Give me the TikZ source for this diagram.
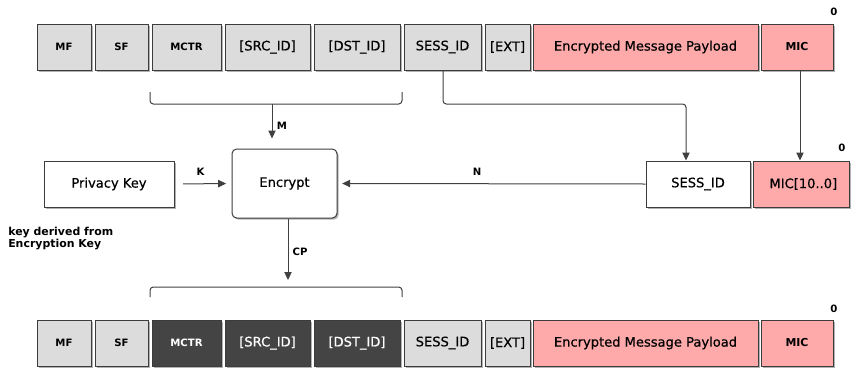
\documentclass[tikz,border=0pt]{standalone}
\usepackage{fontspec}
\setmainfont{DejaVu Sans}
\newfontfamily\medfont{DejaVu Sans}[FakeBold=0.5]
\usetikzlibrary{arrows.meta,shadows}
\definecolor{cellgray}{HTML}{DCDCDC}
\definecolor{cellpink}{HTML}{FFAAAA}
\definecolor{celldark}{HTML}{444444}
\definecolor{edgegray}{HTML}{3C3C3C}
\definecolor{linegray}{HTML}{404040}
\newcommand\mkcell[7]{\node[#2, minimum width={(#4-#3)*0.75pt}, minimum height={(#6-#5)*0.75pt}] (#1) at ({(#3+#4)/2},{(#5+#6)/2}) {#7};}
\tikzset{
  basebox/.style={draw=edgegray, line width=0.75pt, inner sep=0pt,
    drop shadow={shadow xshift=1.2pt, shadow yshift=-1.2pt, fill=black, opacity=0.3}},
  gbox/.style={basebox, fill=cellgray, text=black},
  pbox/.style={basebox, fill=cellpink, text=black},
  dbox/.style={basebox, fill=celldark, text=white},
  wbox/.style={basebox, fill=white, text=black},
  rbox/.style={wbox, rounded corners=3.5pt},
  smallbf/.style={font=\fontsize{7.6}{9}\selectfont\bfseries},
  midbf/.style={font=\fontsize{8.2}{10}\selectfont\bfseries},
  reg/.style={font=\fontsize{9.8}{12}\selectfont\medfont},
  lbl/.style={font=\fontsize{7.6}{9}\selectfont\bfseries, inner sep=0pt},
  conn/.style={draw=linegray, line width=0.75pt},
  arr/.style={conn, -{Triangle[length=6pt, width=5.5pt]}},
  brace/.style={conn, rounded corners=2.5pt},
}
\begin{document}
\begin{tikzpicture}[x=0.75pt, y=-0.75pt]
\useasboundingbox (0,0) rectangle (857,379);
% top row
\mkcell{mf}{gbox,smallbf}{37}{91}{24}{70}{MF}
\mkcell{sf}{gbox,smallbf}{95}{148}{24}{70}{SF}
\mkcell{mctr}{gbox,smallbf}{152}{221}{24}{70}{MCTR}
\mkcell{src}{gbox,reg}{225}{310}{24}{70}{[SRC\_ID]}
\mkcell{dst}{gbox,reg}{314}{400}{24}{70}{[DST\_ID]}
\mkcell{sess}{gbox,reg}{404}{481}{24}{70}{SESS\_ID}
\mkcell{ext}{gbox,reg}{485}{530}{24}{70}{[EXT]}
\mkcell{emp}{pbox,reg}{533}{758}{24}{70}{Encrypted Message Payload}
\mkcell{mic}{pbox,midbf}{761}{833}{24}{70}{MIC}
\node[lbl] (zero1) at (834,12) {0};
% middle row
\mkcell{pk}{wbox,reg}{44}{174}{161}{207}{Privacy Key}
\mkcell{enc}{rbox,reg}{232}{337}{149}{218}{Encrypt\hspace{7.5pt}}
\mkcell{sess2}{wbox,reg}{646}{750}{161}{207}{SESS\_ID\hspace{18.75pt}}
\mkcell{mic2}{pbox,reg}{753}{849}{161}{207}{\hspace{3.5pt}MIC[10..0]}
\node[lbl] (zero2) at (842,148) {0};
\node[anchor=north west, align=left, inner sep=0pt, font=\fontsize{8.2}{8.6}\selectfont\bfseries] (note) at (8,227) {key derived from\\Encryption Key};
% bottom row
\mkcell{mfb}{gbox,smallbf}{37}{91}{320}{366}{MF}
\mkcell{sfb}{gbox,smallbf}{95}{148}{320}{366}{SF}
\mkcell{mctrb}{dbox,smallbf}{152}{221}{320}{366}{MCTR}
\mkcell{srcb}{dbox,reg}{225}{310}{320}{366}{[SRC\_ID]}
\mkcell{dstb}{dbox,reg}{314}{400}{320}{366}{[DST\_ID]}
\mkcell{sessb}{gbox,reg}{404}{481}{320}{366}{SESS\_ID}
\mkcell{extb}{gbox,reg}{485}{530}{320}{366}{[EXT]}
\mkcell{empb}{pbox,reg}{533}{758}{320}{366}{Encrypted Message Payload}
\mkcell{micb}{pbox,midbf}{761}{833}{320}{366}{MIC}
\node[lbl] (zero3) at (834,309) {0};
% braces
\draw[brace] (150,92) -- (150,104) -- (402,104) -- (402,92);
\coordinate (mtop) at (272,104);
\draw[brace] (150,297) -- (150,287) -- (402,287) -- (402,297);
\coordinate (cpx) at (288,0);
\coordinate (cpend) at (288,280);
% connectors
\draw[arr, shorten >=7.5pt] (mtop) -- (mtop |- enc.north);
\node[lbl] (mlab) at (282,126) {M};
\draw[arr, shorten <=6.5pt, shorten >=4pt] (pk.east) -- (enc.west);
\node[lbl] (klab) at (200.5,172) {K};
\draw[arr, shorten >=3.5pt] (sess2.west) -- (enc.east);
\node[lbl] (nlab) at (477,172) {N};
\draw[arr] (enc.south -| cpx) -- (cpend);
\node[lbl] (cplab) at (300,252) {CP};
\coordinate (sessx) at (443,0);
\coordinate (sessturn) at (686,104);
\draw[arr, rounded corners=2.5pt] (sess.south -| sessx) -- (sessx |- sessturn) -- (sessturn) -- (sessturn |- sess2.north);
\coordinate (micx) at (800,0);
\draw[arr] (mic.south -| micx) -- (micx |- mic2.north);
\end{tikzpicture}
\end{document}
